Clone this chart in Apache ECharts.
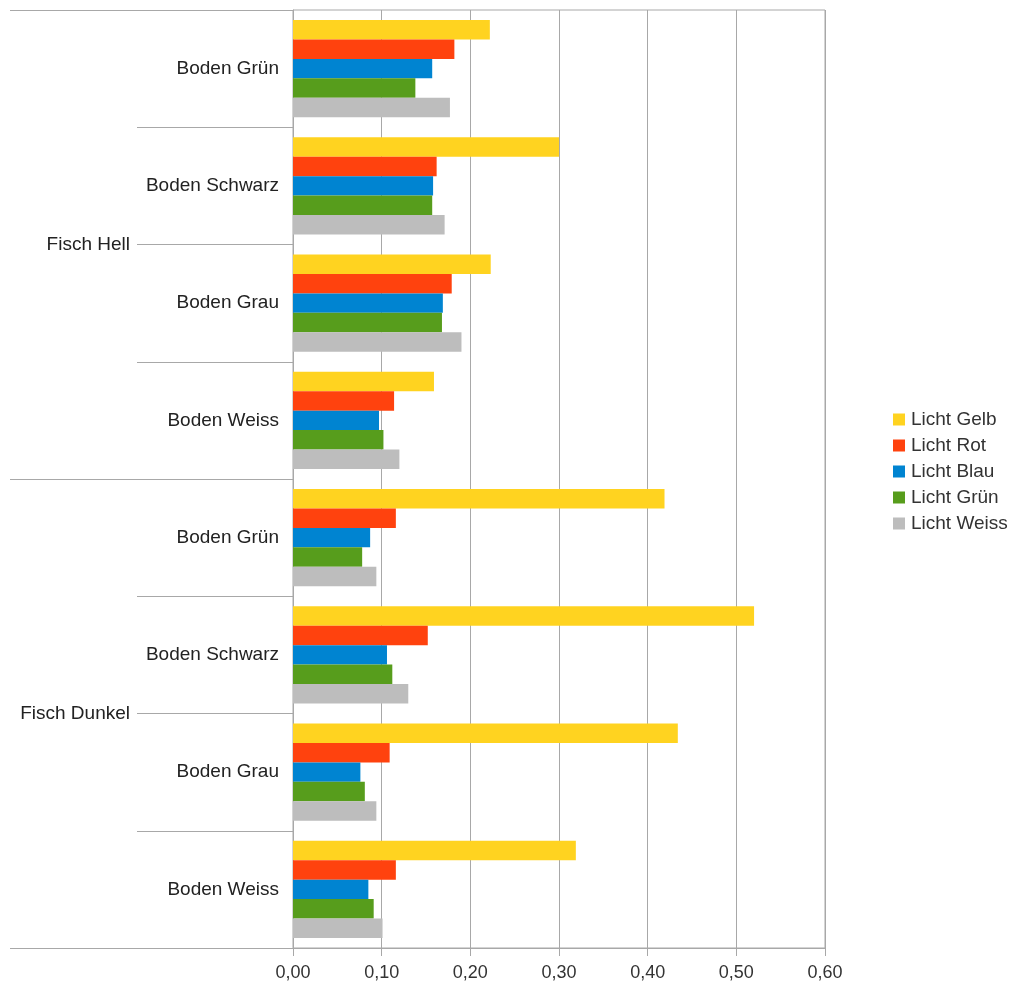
<!DOCTYPE html>
<html>
<head>
<meta charset="utf-8">
<script src="https://cdn.jsdelivr.net/npm/echarts@6/dist/echarts.min.js"></script>
<style>
  html, body { margin: 0; padding: 0; background: #fff; }
  #chart { width: 1018px; height: 988px; }
</style>
</head>
<body>
<div id="chart"></div>
<script>
// Kategorien (oben nach unten)
const boden = ['Boden Grün', 'Boden Schwarz', 'Boden Grau', 'Boden Weiss',
               'Boden Grün', 'Boden Schwarz', 'Boden Grau', 'Boden Weiss'];
const fisch = ['Fisch Hell', 'Fisch Dunkel'];
const xTicks = [0, 0.1, 0.2, 0.3, 0.4, 0.5, 0.6];

const lichtGelb  = [0.222, 0.300, 0.223, 0.159, 0.419, 0.520, 0.434, 0.319];
const lichtRot   = [0.182, 0.162, 0.179, 0.114, 0.116, 0.152, 0.109, 0.116];
const lichtBlau  = [0.157, 0.158, 0.169, 0.097, 0.087, 0.106, 0.076, 0.085];
const lichtGruen = [0.138, 0.157, 0.168, 0.102, 0.078, 0.112, 0.081, 0.091];
const lichtWeiss = [0.177, 0.171, 0.190, 0.120, 0.094, 0.130, 0.094, 0.101];

const names = ['Licht Gelb', 'Licht Rot', 'Licht Blau', 'Licht Grün', 'Licht Weiss'];
const values = [lichtGelb, lichtRot, lichtBlau, lichtGruen, lichtWeiss];
const colors = ['#ffd320', '#ff420e', '#0084d1', '#579d1c', '#bdbdbd'];

const lineColor = '#a8a8a8';
const font = '"Liberation Sans", Arial, sans-serif';

let myChart = echarts.init(document.getElementById('chart'));

myChart.setOption({
  animation: false,
  color: colors,
  textStyle: { fontFamily: font },
  grid: {
    left: 293, right: 193, top: 10, bottom: 40,
    show: true, borderColor: lineColor, borderWidth: 1
  },
  legend: {
    orient: 'vertical',
    left: 888,
    top: 405,
    itemWidth: 12,
    itemHeight: 12,
    itemGap: 7,
    icon: 'rect',
    textStyle: { fontSize: 19, color: '#333', fontFamily: font, padding: [0, 0, 0, 1] },
    data: names
  },
  xAxis: {
    type: 'value',
    min: xTicks[0],
    max: xTicks[xTicks.length - 1],
    interval: 0.1,
    axisLine: { show: true, lineStyle: { color: lineColor } },
    axisTick: { show: true, length: 8, lineStyle: { color: lineColor } },
    splitLine: { show: true, lineStyle: { color: lineColor } },
    axisLabel: {
      margin: 16,
      fontSize: 18,
      color: '#333',
      formatter: v => v.toFixed(2).replace('.', ',')
    }
  },
  yAxis: [{
    type: 'category',
    inverse: true,
    data: boden,
    axisLine: { show: true, lineStyle: { color: lineColor } },
    axisTick: { show: true, length: 156, interval: 0, lineStyle: { color: lineColor } },
    axisLabel: { margin: 14, fontSize: 19, color: '#222', interval: 0 }
  }, {
    type: 'category',
    inverse: true,
    position: 'left',
    data: fisch,
    axisLine: { show: false },
    axisTick: { show: true, length: 283, interval: 0, lineStyle: { color: lineColor } },
    axisLabel: { margin: 163, fontSize: 19, color: '#222', interval: 0 }
  }],
  series: names.map((name, i) => ({
    name,
    type: 'bar',
    yAxisIndex: 0,
    data: values[i],
    barGap: 0,
    barCategoryGap: '17%'
  }))
});
</script>
</body>
</html>
